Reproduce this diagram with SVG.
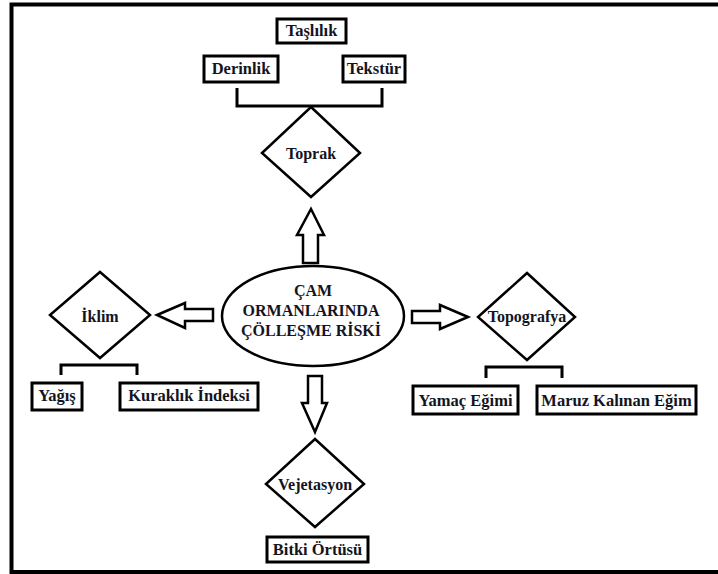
<svg xmlns="http://www.w3.org/2000/svg" width="718" height="574" viewBox="0 0 718 574">
<style>
.box{fill:#fff;stroke:#000;stroke-width:3}
.dia{fill:#fff;stroke:#000;stroke-width:2.5;stroke-linejoin:miter}
.arr{fill:#fff;stroke:#000;stroke-width:2.5;stroke-linejoin:miter}
.br{fill:none;stroke:#000;stroke-width:3}
.t{font-family:'Liberation Serif','DejaVu Serif',serif;font-weight:700;font-size:16px;fill:#14141e;text-anchor:middle}
.b{font-size:16.5px}
</style>
<rect width="718" height="574" fill="#fff"/>
<path d="M11.5 574V4.5H718" fill="none" stroke="#000" stroke-width="4"/>
<path d="M10 572H718" stroke="#000" stroke-width="4"/>
<g id="connectors">
<path class="br" d="M237 88V106H382V88"/>
<path class="br" d="M61 375V365H137V375"/>
<path class="br" d="M486 378V367H562V378"/>
<path class="arr" d="M311 209L324 235H318V263H303V235H297Z"/>
<path class="arr" d="M157 315L185 303V309H213V321H185V328Z"/>
<path class="arr" d="M468 317L440 305V311H412V323H440V329Z"/>
<path class="arr" d="M315 432L327 403H322V376H308V403H302Z"/>
</g>
<g id="center"><ellipse cx="313" cy="316" rx="91" ry="50" fill="#fff" stroke="#000" stroke-width="2.5"/>
<text class="t" x="313" y="296">ÇAM</text><text class="t" x="311" y="316">ORMANLARINDA</text><text class="t" x="311" y="336">ÇÖLLEŞME RİSKİ</text></g>
<g id="toprak"><polygon class="dia" points="311,107 360,153 311,197 262,153"/><text class="t" x="311" y="159">Toprak</text></g>
<g id="iklim"><polygon class="dia" points="100,272 150,315 100,358 50,315"/><text class="t" x="100" y="322">İklim</text></g>
<g id="topografya"><polygon class="dia" points="527,273 575,317 527,360 478,317"/><text class="t" x="527" y="322">Topografya</text></g>
<g id="vejetasyon"><polygon class="dia" points="315,439 364,484 315,527 266,484"/><text class="t" x="315" y="490">Vejetasyon</text></g>
<g id="taslilik"><rect class="box" x="277" y="19" width="69" height="24"/><text class="t b" x="311.5" y="36">Taşlılık</text></g>
<g id="derinlik"><rect class="box" x="204" y="56" width="74" height="26"/><text class="t b" x="241" y="74">Derinlik</text></g>
<g id="tekstur"><rect class="box" x="343" y="56" width="62" height="26"/><text class="t b" x="374" y="74">Tekstür</text></g>
<g id="yagis"><rect class="box" x="32" y="383" width="50" height="27"/><text class="t b" x="57" y="401">Yağış</text></g>
<g id="kuraklik"><rect class="box" x="120" y="383" width="138" height="27"/><text class="t b" x="189" y="401">Kuraklık İndeksi</text></g>
<g id="yamac"><rect class="box" x="413" y="386" width="105" height="28"/><text class="t b" x="465.5" y="406">Yamaç Eğimi</text></g>
<g id="maruz"><rect class="box" x="537" y="386" width="159" height="28"/><text class="t b" x="616.5" y="406">Maruz Kalınan Eğim</text></g>
<g id="bitki"><rect class="box" x="267" y="537" width="101" height="25"/><text class="t b" x="317.5" y="555">Bitki Örtüsü</text></g>
</svg>
